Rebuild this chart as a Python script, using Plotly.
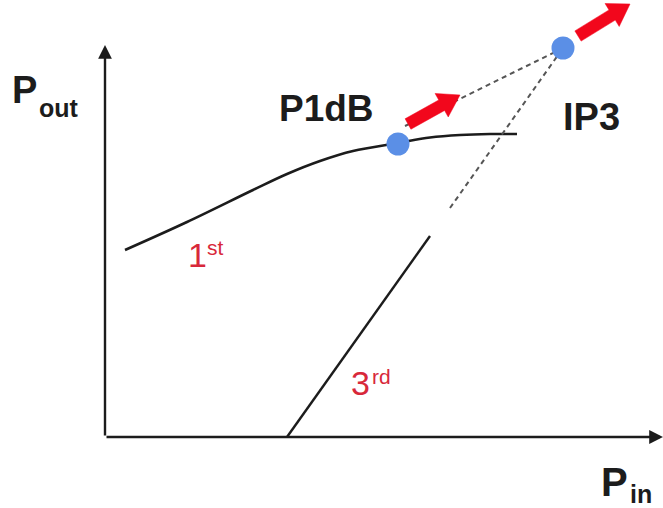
import numpy as np
import plotly.graph_objects as go

# Schematic amplifier transfer curves (arbitrary units, Pin -> Pout)
fund_pin = [2.0, 8.2, 14.8, 18.2, 21.5, 24.8, 29.3, 32.5, 35.5, 38.5, 41.2]
fund_pout = [18.7, 21.5, 24.7, 26.3, 27.6, 28.6, 29.4, 29.95, 30.2, 30.3, 30.3]

# third-order product: measured (solid) and extrapolated (dashed)
im3_pin = [18.2, 32.5]
im3_pout = [0.0, 20.1]
im3_ext_pin = [34.5, 45.8]
im3_ext_pout = [22.9, 38.9]

# first-order extrapolation towards the intercept
fund_ext_pin = [30.0, 45.8]
fund_ext_pout = [31.1, 38.9]

# marked points
p1db = (29.3, 29.3)
ip3 = (45.8, 38.9)

# red "increase" arrows: (tail, tip)
arrows = [((30.3, 31.3), (35.5, 34.2)), ((47.3, 40.1), (52.5, 43.3))]

# axes extents
x_axis_end = 55.8
y_axis_end = 39.2

W, H = 663, 508
XR = [-10.5, 55.8]
YR = [-7.1, 43.7]

BLACK = "#1c1c1c"
RED_TXT = "#d8283a"
RED_ARR = "#f2071c"
BLUE = "#5b8fe6"
DASH = "#555555"

fig = go.Figure()

fig.add_trace(go.Scatter(x=fund_pin, y=fund_pout, mode="lines",
                         line=dict(color=BLACK, width=2.6, shape="spline", smoothing=1.0),
                         hoverinfo="skip"))
fig.add_trace(go.Scatter(x=im3_pin, y=im3_pout, mode="lines",
                         line=dict(color=BLACK, width=2.4), hoverinfo="skip"))
for xs, ys in [(im3_ext_pin, im3_ext_pout), (fund_ext_pin, fund_ext_pout)]:
    fig.add_trace(go.Scatter(x=xs, y=ys, mode="lines",
                             line=dict(color=DASH, width=2, dash="5px,4px"),
                             hoverinfo="skip"))


def block_arrow(tail, tip, body=1.2, head=2.7, head_len=2.1):
    t = np.array(tail, float)
    p = np.array(tip, float)
    d = p - t
    d /= np.hypot(*d)
    n = np.array([-d[1], d[0]])
    b = p - d * head_len
    pts = [t + n * body / 2, b + n * body / 2, b + n * head / 2, p,
           b - n * head / 2, b - n * body / 2, t - n * body / 2, t + n * body / 2]
    return [q[0] for q in pts], [q[1] for q in pts]


for tail, tip in arrows:
    ax_, ay_ = block_arrow(tail, tip)
    fig.add_trace(go.Scatter(x=ax_, y=ay_, mode="lines", fill="toself",
                             fillcolor=RED_ARR, line=dict(color=RED_ARR, width=0.5),
                             hoverinfo="skip"))

fig.add_trace(go.Scatter(x=[p1db[0], ip3[0]], y=[p1db[1], ip3[1]], mode="markers",
                         marker=dict(color=BLUE, size=23, line=dict(width=0)),
                         hoverinfo="skip"))

# axes drawn as arrows from the origin
for tx, ty in [(x_axis_end, 0), (0, y_axis_end)]:
    fig.add_annotation(x=tx, y=ty, ax=0, ay=0, xref="x", yref="y", axref="x", ayref="y",
                       showarrow=True, arrowhead=2, arrowsize=1.15, arrowwidth=2.4,
                       arrowcolor=BLACK, text="")

FONT = "Liberation Sans, Arial, sans-serif"


def label(x, y, text, size, color=BLACK, bold=True):
    fig.add_annotation(x=x, y=y, xref="x", yref="y", text=f"<b>{text}</b>" if bold else text,
                       showarrow=False, font=dict(family=FONT, size=size, color=color),
                       xanchor="center", yanchor="middle")


label(-8.1, 34.7, "P", 38)
label(-4.6, 32.9, "out", 25)
label(50.9, -4.5, "P", 40)
label(53.6, -5.7, "in", 25)
label(22.15, 32.9, "P1dB", 37)
label(48.6, 32.0, "IP3", 38)
label(9.2, 18.2, "1", 34, RED_TXT, bold=False)
label(11.0, 19.0, "st", 21, RED_TXT, bold=False)
label(25.5, 5.4, "3", 34, RED_TXT, bold=False)
label(27.6, 6.1, "rd", 21, RED_TXT, bold=False)

fig.update_layout(
    width=W, height=H, margin=dict(l=0, r=0, t=0, b=0),
    paper_bgcolor="white", plot_bgcolor="white", showlegend=False,
    xaxis=dict(range=XR, visible=False, fixedrange=True),
    yaxis=dict(range=YR, visible=False, fixedrange=True),
)

fig.write_html("out.html")
